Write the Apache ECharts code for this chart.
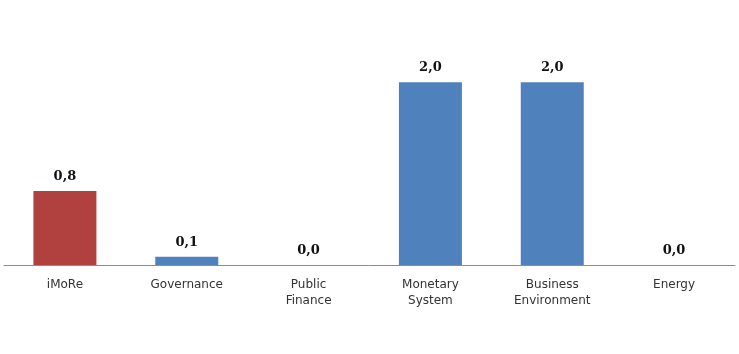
<!DOCTYPE html>
<html>
<head>
<meta charset="utf-8">
<script src="https://cdn.jsdelivr.net/npm/echarts@6/dist/echarts.min.js"></script>
<style>
    html, body { margin: 0; padding: 0; background: #fff; }
    #chart { width: 739px; height: 354px; }
</style>
</head>
<body>
<div id="chart"></div>
<script>
const categories = ['iMoRe', 'Governance', 'Public\nFinance', 'Monetary\nSystem', 'Business\nEnvironment', 'Energy'];
const values = [0.81, 0.09, 0.0, 2.0, 2.0, 0.0];
const barColors = ['#B0413E', '#4F81BD', '#4F81BD', '#4F81BD', '#4F81BD', '#4F81BD'];

const myChart = echarts.init(document.getElementById('chart'));

const option = {
    animation: false,
    grid: { left: 4, right: 4, top: 9, bottom: 89 },
    xAxis: {
        type: 'category',
        data: categories,
        axisLine: { lineStyle: { color: '#8c8c8c', width: 1 } },
        axisTick: { show: false },
        axisLabel: {
            color: '#333',
            fontFamily: 'DejaVu Sans',
            fontSize: 12,
            lineHeight: 16,
            margin: 12,
            interval: 0
        }
    },
    yAxis: {
        type: 'value',
        min: 0,
        max: 2.8,
        show: false,
        splitLine: { show: false }
    },
    series: [
        {
            type: 'bar',
            data: values.map((v, i) => ({ value: v, itemStyle: { color: barColors[i] } })),
            barWidth: 63,
            label: {
                show: true,
                position: 'top',
                distance: 8,
                formatter: p => p.value.toFixed(1).replace('.', ','),
                fontFamily: 'DejaVu Serif',
                fontWeight: 'bold',
                fontSize: 13,
                color: '#111'
            }
        }
    ]
};

myChart.setOption(option);
</script>
</body>
</html>
